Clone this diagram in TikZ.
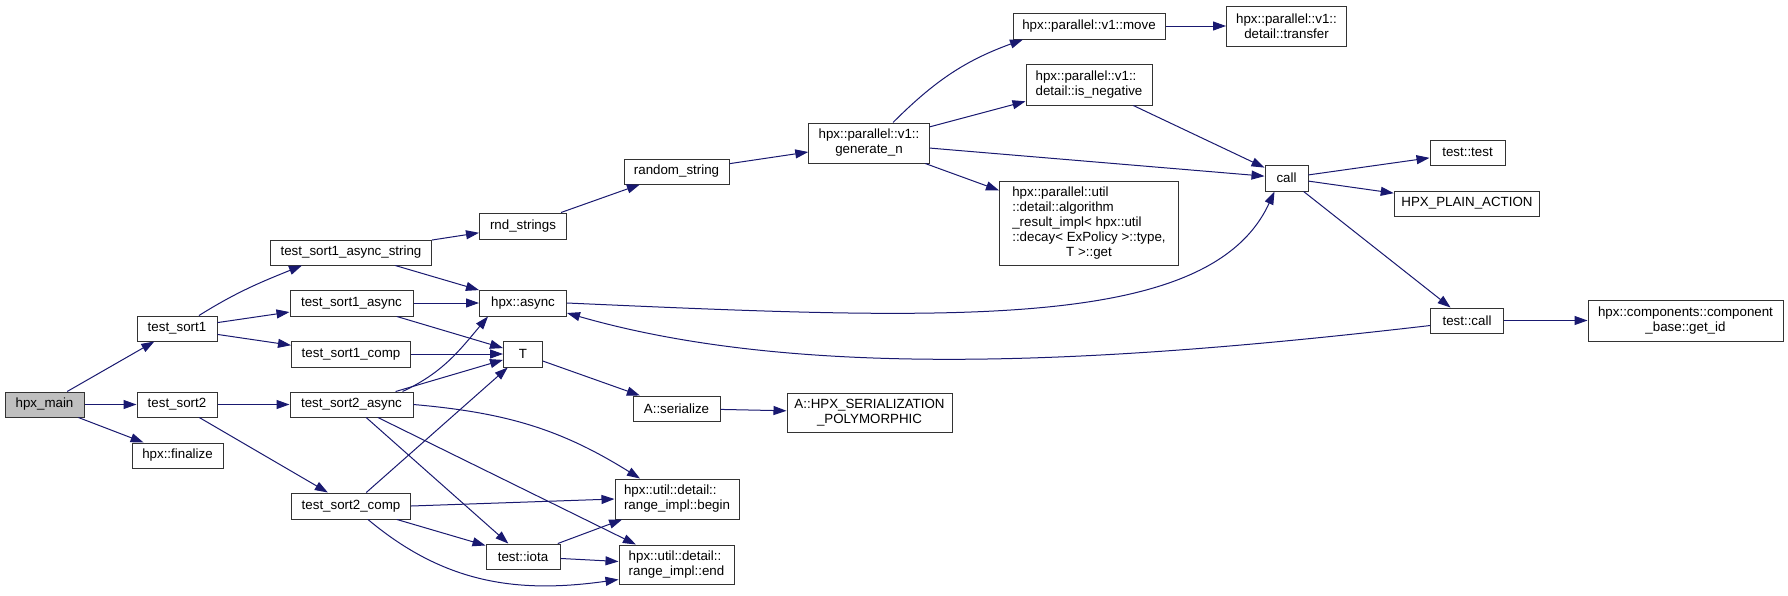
\documentclass[tikz,border=0pt]{standalone}
\usepackage{fontspec}
\setmainfont{Liberation Sans}
\usetikzlibrary{arrows.meta}
\definecolor{edgeblue}{RGB}{25,25,112}
\definecolor{rootgray}{RGB}{191,191,191}

\begin{document}
\begin{tikzpicture}[x=1pt, y=-1pt,
    fn/.style={draw=black!80, fill=white, line width=1pt, inner sep=0pt,
        minimum height=25pt, font=\fontsize{13.33}{15}\selectfont},
    calls/.style={draw=edgeblue, line width=1pt, -{Triangle[length=13pt,width=9pt]}}]

% Canvas
\path[fill=white] (0,0) rectangle (1788,595);

% Root and first level
\node[fn, fill=rootgray, minimum width=79pt] (hpxmain) at (44.5,404.5) {hpx\_main};
\node[fn, minimum width=80pt] (sortone) at (177,328.5) {test\_sort1};
\node[fn, minimum width=80pt] (sorttwo) at (177,404.5) {test\_sort2};
\node[fn, minimum width=91pt] (finalize) at (177.5,455.5) {hpx::finalize};

% Test functions
\node[fn, minimum width=161pt] (oneasyncstr) at (351,252.5) {test\_sort1\_async\_string};
\node[fn, minimum width=123pt, minimum height=26pt] (oneasync) at (351.5,303) {test\_sort1\_async};
\node[fn, minimum width=119pt, minimum height=26pt] (onecomp) at (351,354) {test\_sort1\_comp};
\node[fn, minimum width=123pt] (twoasync) at (351.5,404.5) {test\_sort2\_async};
\node[fn, minimum width=119pt, minimum height=26pt] (twocomp) at (351,506) {test\_sort2\_comp};

% Middle column
\node[fn, minimum width=87pt, minimum height=26pt] (rndstrings) at (523,226) {rnd\_strings};
\node[fn, minimum width=87pt, minimum height=26pt] (hpxasync) at (523,303) {hpx::async};
\node[fn, minimum width=39pt, minimum height=26pt] (tparam) at (523,354) {T};
\node[fn, minimum width=74pt] (iota) at (523,556.5) {test::iota};
\node[fn, minimum width=105pt] (randomstring) at (676.5,171.5) {random\_string};
\node[fn, minimum width=87pt] (serialize) at (676.5,408.5) {A::serialize};
\node[fn, minimum width=124pt, minimum height=40pt, align=left] (rangebegin) at (677,499)
    {hpx::util::detail::\\range\_impl::begin};
\node[fn, minimum width=115pt, minimum height=39pt, align=left] (rangeend) at (676.5,564.5)
    {hpx::util::detail::\\range\_impl::end};
\node[fn, minimum width=165pt, minimum height=39pt, align=center] (polymorphic) at (869.5,412.5)
    {A::HPX\_SERIALIZATION\\\_POLYMORPHIC};

% Algorithms
\node[fn, minimum width=120.5pt, minimum height=40pt, align=center] (generaten) at (869,143)
    {hpx::parallel::v1::\\generate\_n};
\node[fn, minimum width=152pt, minimum height=26pt] (move) at (1089,26) {hpx::parallel::v1::move};
\node[fn, minimum width=126pt, minimum height=41pt, align=left] (isnegative) at (1089,84.5)
    {hpx::parallel::v1::\\detail::is\_negative};
\node[fn, minimum width=179pt, minimum height=84pt] (algoresult) at (1089,223)
    {\begin{tabular}{@{}l@{}}hpx::parallel::util\\::detail::algorithm\\\_result\_impl< hpx::util\\::decay< ExPolicy >::type,\\\multicolumn{1}{@{}c@{}}{T >::get}\end{tabular}};
\node[fn, minimum width=120pt, minimum height=40pt, align=center] (transfer) at (1286.5,26)
    {hpx::parallel::v1::\\detail::transfer};

% Right side
\node[fn, minimum width=43pt, minimum height=26pt] (call) at (1286.5,178) {call};
\node[fn, minimum width=75pt] (testtest) at (1467.5,152.5) {test::test};
\node[fn, minimum width=145.5pt] (plainaction) at (1467,203.5) {HPX\_PLAIN\_ACTION};
\node[fn, minimum width=72.5pt] (testcall) at (1467,320.5) {test::call};
\node[fn, minimum width=195pt, minimum height=41pt, align=center] (getid) at (1685.5,320.5)
    {hpx::components::component\\\_base::get\_id};

% Calls from hpx_main
\draw[calls] (hpxmain) -- (sortone);
\draw[calls] (hpxmain) -- (sorttwo);
\draw[calls] (hpxmain) -- (finalize);

% Calls from test_sort1 / test_sort2
\draw[calls] ([xshift=22pt]sortone.north) to[out=32,in=202] ([xshift=-49pt]oneasyncstr.south);
\draw[calls] (sortone) -- (oneasync);
\draw[calls] (sortone) -- (onecomp);
\draw[calls] (sorttwo) -- (twoasync);
\draw[calls] (sorttwo) -- (twocomp);

% Calls from the test functions
\draw[calls] (oneasyncstr) -- (rndstrings);
\draw[calls] (oneasyncstr) -- (hpxasync);
\draw[calls] (oneasync) -- (hpxasync);
\draw[calls] (oneasync) -- (tparam);
\draw[calls] (onecomp) -- (tparam);
\draw[calls] ([xshift=51pt]twoasync.north) to[out=25,in=230] ([xshift=-35pt]hpxasync.south);
\draw[calls] (twoasync) -- (tparam);
\draw[calls] (twoasync.east) to[out=-5,in=148] ([xshift=-37pt]rangebegin.north);
\draw[calls] (twoasync) -- (rangeend);
\draw[calls] (twoasync) -- (iota);
\draw[calls] (twocomp) -- (tparam);
\draw[calls] (twocomp.east) -- (rangebegin.west);
\draw[calls] (twocomp) -- (iota);
\draw[calls] ([xshift=17pt]twocomp.south) to[out=-40,in=188] ([yshift=-15pt]rangeend.west);
\draw[calls] (iota) -- (rangebegin);
\draw[calls] (iota) -- (rangeend);

% String generation
\draw[calls] (rndstrings) -- (randomstring);
\draw[calls] (randomstring) -- (generaten);
\draw[calls] ([xshift=24pt]generaten.north) to[out=45,in=200] ([xshift=-66pt]move.south);
\draw[calls] (generaten) -- (isnegative);
\draw[calls] (generaten) -- (call);
\draw[calls] (generaten) -- (algoresult);
\draw[calls] (move) -- (transfer);
\draw[calls] (isnegative) -- (call);

% Async and call
\draw[calls] (hpxasync.east) .. controls (950,320) and (1210,332) .. ([xshift=-12pt]call.south);
\draw[calls] ([yshift=-5pt]testcall.west) .. controls (1100,364) and (800,380) .. ([yshift=-10pt]hpxasync.east);
\draw[calls] (call) -- (testtest);
\draw[calls] (call) -- (plainaction);
\draw[calls] (call) -- (testcall);
\draw[calls] (testcall) -- (getid);

% Serialization
\draw[calls] (tparam) -- (serialize);
\draw[calls] (serialize) -- (polymorphic);

\end{tikzpicture}
\end{document}
